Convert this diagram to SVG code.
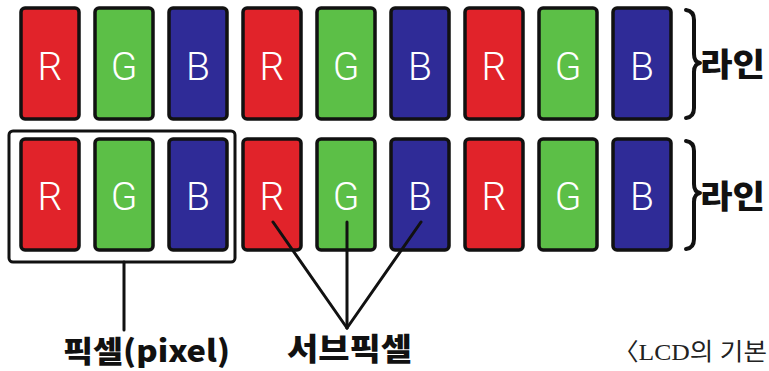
<svg xmlns="http://www.w3.org/2000/svg" width="769" height="371" viewBox="0 0 769 371">
<style>
.cell{stroke:#111;stroke-width:3.5}
.r{fill:#e1232a}
.g{fill:#5cbf47}
.b{fill:#2f2b97}
.lt{fill:#fff;font-family:Roboto,"Liberation Sans",Arial,sans-serif;font-weight:300;font-size:39px;text-anchor:middle}
.ko{fill:#111;font-family:"Noto Sans CJK KR",sans-serif;font-weight:900}
.ln{stroke:#111;stroke-width:3;fill:none;stroke-linecap:round}
.brace{stroke:#111;stroke-width:4;fill:none;stroke-linecap:round;stroke-linejoin:round}
</style>
<rect width="769" height="371" fill="#fff"/>
<!-- Row 1 -->
<g id="r1c1"><rect class="cell r" x="21" y="8" width="58" height="111" rx="4"/><text class="lt" x="50" y="80">R</text></g>
<g id="r1c2"><rect class="cell g" x="95" y="8" width="58" height="111" rx="4"/><text class="lt" x="124" y="80">G</text></g>
<g id="r1c3"><rect class="cell b" x="169" y="8" width="58" height="111" rx="4"/><text class="lt" x="198" y="80">B</text></g>
<g id="r1c4"><rect class="cell r" x="243" y="8" width="58" height="111" rx="4"/><text class="lt" x="272" y="80">R</text></g>
<g id="r1c5"><rect class="cell g" x="317" y="8" width="58" height="111" rx="4"/><text class="lt" x="346" y="80">G</text></g>
<g id="r1c6"><rect class="cell b" x="391" y="8" width="58" height="111" rx="4"/><text class="lt" x="420" y="80">B</text></g>
<g id="r1c7"><rect class="cell r" x="465" y="8" width="58" height="111" rx="4"/><text class="lt" x="494" y="80">R</text></g>
<g id="r1c8"><rect class="cell g" x="539" y="8" width="58" height="111" rx="4"/><text class="lt" x="568" y="80">G</text></g>
<g id="r1c9"><rect class="cell b" x="613" y="8" width="58" height="111" rx="4"/><text class="lt" x="642" y="80">B</text></g>
<!-- Row 2 -->
<g id="r2c1"><rect class="cell r" x="21" y="139" width="58" height="111" rx="4"/><text class="lt" x="50" y="210">R</text></g>
<g id="r2c2"><rect class="cell g" x="95" y="139" width="58" height="111" rx="4"/><text class="lt" x="124" y="210">G</text></g>
<g id="r2c3"><rect class="cell b" x="169" y="139" width="58" height="111" rx="4"/><text class="lt" x="198" y="210">B</text></g>
<g id="r2c4"><rect class="cell r" x="243" y="139" width="58" height="111" rx="4"/><text class="lt" x="272" y="210">R</text></g>
<g id="r2c5"><rect class="cell g" x="317" y="139" width="58" height="111" rx="4"/><text class="lt" x="346" y="210">G</text></g>
<g id="r2c6"><rect class="cell b" x="391" y="139" width="58" height="111" rx="4"/><text class="lt" x="420" y="210">B</text></g>
<g id="r2c7"><rect class="cell r" x="465" y="139" width="58" height="111" rx="4"/><text class="lt" x="494" y="210">R</text></g>
<g id="r2c8"><rect class="cell g" x="539" y="139" width="58" height="111" rx="4"/><text class="lt" x="568" y="210">G</text></g>
<g id="r2c9"><rect class="cell b" x="613" y="139" width="58" height="111" rx="4"/><text class="lt" x="642" y="210">B</text></g>
<!-- Pixel box -->
<g id="pixelbox"><rect x="9" y="131" width="226" height="131" rx="4" fill="none" stroke="#111" stroke-width="3"/></g>
<!-- Braces and line labels -->
<g id="line1">
<path class="brace" d="M686,10 Q694,11 694,20 L694,54 Q694,62 700,63 Q694,64 694,72 L694,108 Q694,117 686,118"/>
<text class="ko" x="700" y="76" font-size="32" textLength="65" lengthAdjust="spacingAndGlyphs">라인</text>
</g>
<g id="line2">
<path class="brace" d="M686,141 Q694,142 694,151 L694,184 Q694,192 700,193 Q694,194 694,202 L694,239 Q694,248 686,249"/>
<text class="ko" x="700" y="208" font-size="32" textLength="65" lengthAdjust="spacingAndGlyphs">라인</text>
</g>
<!-- Connectors -->
<g id="connectors">
<line class="ln" x1="124" y1="262" x2="124" y2="330"/>
<line class="ln" x1="273" y1="222" x2="347" y2="328"/>
<line class="ln" x1="347" y1="222" x2="347" y2="328"/>
<line class="ln" x1="421" y1="222" x2="347" y2="328"/>
</g>
<!-- Labels -->
<g id="pixel-label"><text class="ko" x="63" y="362" font-size="30" textLength="167" lengthAdjust="spacingAndGlyphs">픽셀(pixel)</text></g>
<g id="subpixel-label"><text class="ko" x="287" y="360" font-size="31" textLength="125" lengthAdjust="spacingAndGlyphs">서브픽셀</text></g>
<g id="caption"><text x="613" y="360" font-family="'Liberation Serif','Noto Sans CJK KR',serif" font-size="24" fill="#222" textLength="154" lengthAdjust="spacingAndGlyphs">〈LCD의 기본</text></g>
</svg>
